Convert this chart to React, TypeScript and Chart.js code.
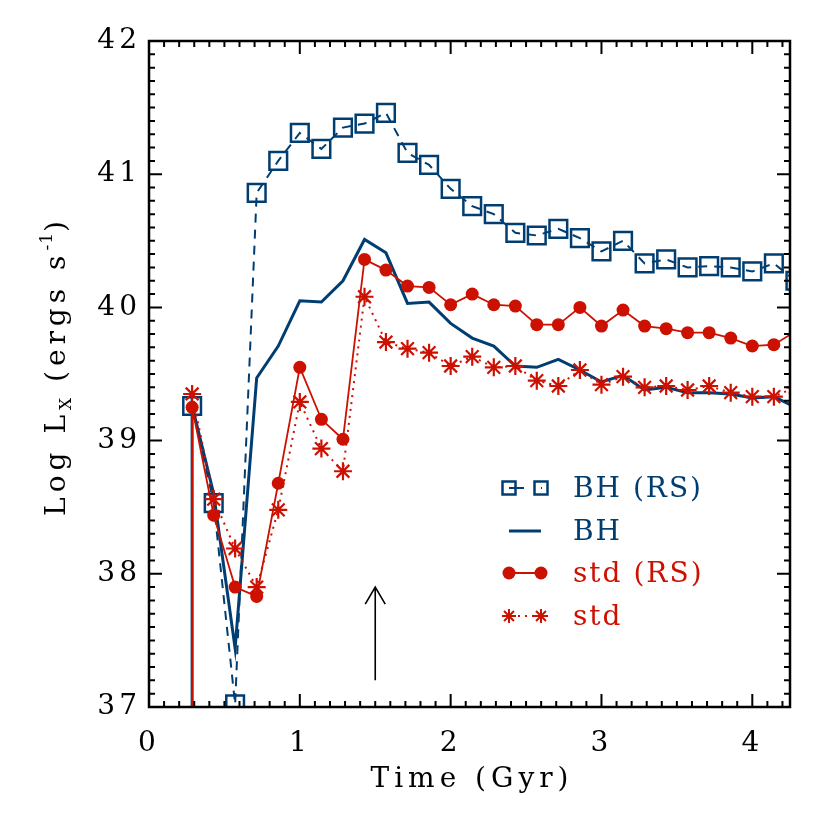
import { useEffect, useRef } from 'react';
import { Chart, registerables } from 'chart.js';

Chart.register(...registerables);

// ---- data ----
const times = [0.286, 0.429, 0.571, 0.714, 0.857, 1.0, 1.143, 1.286, 1.429, 1.571, 1.714, 1.857, 2.0, 2.143, 2.286, 2.429, 2.571, 2.714, 2.857, 3.0, 3.143, 3.286, 3.429, 3.571, 3.714, 3.857, 4.0, 4.143, 4.286];
const bhRS = [39.26, 38.53, 37.02, 40.86, 41.10, 41.31, 41.19, 41.35, 41.38, 41.46, 41.16, 41.07, 40.89, 40.76, 40.70, 40.56, 40.54, 40.59, 40.52, 40.42, 40.50, 40.33, 40.36, 40.30, 40.31, 40.30, 40.27, 40.33, 40.20];
const bh = [39.26, 38.60, 37.44, 39.47, 39.71, 40.05, 40.04, 40.20, 40.51, 40.41, 40.03, 40.04, 39.88, 39.77, 39.71, 39.56, 39.55, 39.61, 39.53, 39.44, 39.49, 39.38, 39.40, 39.36, 39.36, 39.35, 39.32, 39.33, 39.25];
const stdRS = [39.25, 38.44, 37.90, 37.83, 38.68, 39.55, 39.16, 39.01, 40.36, 40.28, 40.16, 40.15, 40.02, 40.10, 40.02, 40.01, 39.87, 39.87, 40.00, 39.86, 39.98, 39.86, 39.84, 39.81, 39.81, 39.77, 39.71, 39.72, 39.82];
const std = [39.35, 38.56, 38.19, 37.90, 38.48, 39.29, 38.94, 38.77, 40.08, 39.74, 39.69, 39.66, 39.56, 39.63, 39.55, 39.56, 39.45, 39.41, 39.53, 39.42, 39.48, 39.40, 39.41, 39.38, 39.41, 39.36, 39.33, 39.33, 39.40];
// first (pre-burst) sample, far below the axis
const dropTime = 0.286;
const dropValue = 30;

const seriesLabels = ['BH (RS)', 'BH', 'std (RS)', 'std'];
const xTitle = 'Time (Gyr)';
const yTitleParts = { main1: 'Log L', sub: 'X', main2: ' (ergs s', sup: '-1', main3: ')' };

const xRange = [0, 4.25];
const yRange = [37, 42];

// arrow marker
const arrowTime = 1.5;
const arrowFrom = 37.2;
const arrowTo = 37.9;

// ---- styles ----
const BLUE = 'rgb(0,62,114)';
const RED = 'rgb(204,17,0)';
const FONT = "'DejaVu Serif'";
const FS = 28;
const TICK_SPACING = '4px';

function pts(ys: number[], withDrop = false) {
  const arr = times.map((t, i) => ({ x: t, y: ys[i] }));
  if (withDrop) arr.unshift({ x: dropTime, y: dropValue });
  return arr;
}

function drawStar(ctx: CanvasRenderingContext2D, x: number, y: number, r: number) {
  ctx.beginPath();
  for (let a = 0; a < 4; a++) {
    const ang = (a * Math.PI) / 4;
    const dx = Math.cos(ang) * r;
    const dy = Math.sin(ang) * r;
    ctx.moveTo(x - dx, y - dy);
    ctx.lineTo(x + dx, y + dy);
  }
  ctx.stroke();
}

const framePlugin = {
  id: 'frame',
  beforeDraw(chart: any) {
    chart.ctx.letterSpacing = TICK_SPACING;
  },
  afterDraw(chart: any) {
    const ctx = chart.ctx as CanvasRenderingContext2D;
    const { left, right, top, bottom } = chart.chartArea;
    const xs = chart.scales.x;
    const ys = chart.scales.y;
    ctx.save();
    ctx.strokeStyle = '#000';
    ctx.lineWidth = 2;
    // ticks (inward, all four sides)
    ctx.beginPath();
    const nx = Math.floor(xRange[1] * 10 + 1e-6);
    for (let i = 0; i <= nx; i++) {
      const v = i / 10;
      const px = xs.getPixelForValue(v);
      const len = i % 10 === 0 ? 13 : 6;
      ctx.moveTo(px, bottom);
      ctx.lineTo(px, bottom - len);
      ctx.moveTo(px, top);
      ctx.lineTo(px, top + len);
    }
    for (let i = yRange[0] * 10; i <= yRange[1] * 10; i++) {
      const v = i / 10;
      const py = ys.getPixelForValue(v);
      const len = i % 10 === 0 ? 13 : 6;
      ctx.moveTo(left, py);
      ctx.lineTo(left + len, py);
      ctx.moveTo(right, py);
      ctx.lineTo(right - len, py);
    }
    ctx.stroke();
    ctx.lineWidth = 2.5;
    ctx.strokeRect(left, top, right - left, bottom - top);

    // arrow
    const ax = xs.getPixelForValue(arrowTime);
    const ay0 = ys.getPixelForValue(arrowFrom);
    const ay1 = ys.getPixelForValue(arrowTo);
    ctx.lineWidth = 1.6;
    ctx.beginPath();
    ctx.moveTo(ax, ay0);
    ctx.lineTo(ax, ay1);
    ctx.moveTo(ax - 10, ay1 + 17);
    ctx.lineTo(ax, ay1);
    ctx.lineTo(ax + 10, ay1 + 17);
    ctx.stroke();

    // x title
    ctx.letterSpacing = '5px';
    ctx.fillStyle = '#000';
    ctx.font = `${FS}px ${FONT}`;
    ctx.textAlign = 'center';
    ctx.textBaseline = 'middle';
    ctx.fillText(xTitle, (left + right) / 2 + 2.5, bottom + 73);

    // y title (rotated, with sub/superscript)
    ctx.letterSpacing = '5px';
    ctx.textAlign = 'left';
    ctx.textBaseline = 'alphabetic';
    const big = `${FS}px ${FONT}`;
    const small = `17px ${FONT}`;
    const parts = [
      { t: yTitleParts.main1, f: big, dy: 0, ls: '5px' },
      { t: yTitleParts.sub, f: small, dy: 6, ls: '2px' },
      { t: yTitleParts.main2, f: big, dy: 0, ls: '5px' },
      { t: yTitleParts.sup, f: small, dy: -13, ls: '1px' },
      { t: yTitleParts.main3, f: big, dy: 0, ls: '5px' },
    ];
    let total = 0;
    const widths = parts.map((p) => {
      ctx.font = p.f;
      ctx.letterSpacing = p.ls;
      const w = ctx.measureText(p.t).width;
      total += w;
      return w;
    });
    ctx.translate(left - 84, (top + bottom) / 2 - 8);
    ctx.rotate(-Math.PI / 2);
    let cx = -total / 2;
    parts.forEach((p, i) => {
      ctx.font = p.f;
      ctx.letterSpacing = p.ls;
      ctx.fillText(p.t, cx, p.dy);
      cx += widths[i];
    });
    ctx.restore();

    // legend
    ctx.save();
    const s1 = left + 360;
    const s2 = left + 392;
    const tx = left + 424;
    const rows = [top + 447, top + 490, top + 532, top + 575];
    // row 1: squares with dashed line
    ctx.strokeStyle = BLUE;
    ctx.lineWidth = 2;
    ctx.setLineDash([15, 17]);
    ctx.beginPath();
    ctx.moveTo(s1, rows[0]);
    ctx.lineTo(s2 + 1, rows[0]);
    ctx.stroke();
    ctx.setLineDash([]);
    ctx.lineWidth = 2.5;
    ctx.strokeRect(s1 - 6.5, rows[0] - 6.5, 13, 13);
    ctx.strokeRect(s2 - 6.5, rows[0] - 6.5, 13, 13);
    // row 2: solid line
    ctx.lineWidth = 3;
    ctx.beginPath();
    ctx.moveTo(s1, rows[1]);
    ctx.lineTo(s2, rows[1]);
    ctx.stroke();
    // row 3: circles
    ctx.strokeStyle = RED;
    ctx.fillStyle = RED;
    ctx.lineWidth = 2;
    ctx.beginPath();
    ctx.moveTo(s1, rows[2]);
    ctx.lineTo(s2, rows[2]);
    ctx.stroke();
    [s1, s2].forEach((x) => {
      ctx.beginPath();
      ctx.arc(x, rows[2], 6.5, 0, Math.PI * 2);
      ctx.fill();
    });
    // row 4: stars with dotted line
    ctx.setLineDash([2, 5]);
    ctx.beginPath();
    ctx.moveTo(s1 + 9, rows[3]);
    ctx.lineTo(s2 - 6, rows[3]);
    ctx.stroke();
    ctx.setLineDash([]);
    drawStar(ctx, s1, rows[3], 7);
    drawStar(ctx, s2, rows[3], 7);
    // texts
    ctx.letterSpacing = '2px';
    ctx.font = `${FS}px ${FONT}`;
    ctx.textAlign = 'left';
    ctx.textBaseline = 'middle';
    const cols = [BLUE, BLUE, RED, RED];
    seriesLabels.forEach((lab, i) => {
      ctx.fillStyle = cols[i];
      ctx.fillText(lab, tx, rows[i] + 2);
    });
    ctx.restore();
    ctx.letterSpacing = '0px';
  },
};

export default function App() {
  const ref = useRef<HTMLCanvasElement | null>(null);
  useEffect(() => {
    document.body.style.margin = '0';
    const canvas = ref.current!;
    const chart = new Chart(canvas, {
      type: 'line',
      data: {
        datasets: [
          {
            label: seriesLabels[2],
            data: pts(stdRS, true),
            borderColor: RED,
            borderWidth: 1.8,
            pointStyle: 'circle',
            pointRadius: 6.5,
            pointBackgroundColor: RED,
            pointBorderColor: RED,
            pointBorderWidth: 0,
            clip: 0,
          },
          {
            label: seriesLabels[3],
            data: pts(std),
            borderColor: RED,
            borderWidth: 2,
            borderDash: [2, 5],
            pointStyle: 'star',
            pointRadius: 9,
            pointBorderColor: RED,
            pointBackgroundColor: RED,
            pointBorderWidth: 2.2,
            clip: 0,
          },
          {
            label: seriesLabels[1],
            data: pts(bh, true),
            borderColor: BLUE,
            borderWidth: 3,
            pointRadius: 0,
            clip: 0,
          },
          {
            label: seriesLabels[0],
            data: pts(bhRS),
            borderColor: BLUE,
            borderWidth: 2,
            borderDash: [9, 7],
            pointStyle: 'rect',
            pointRadius: 12.5,
            pointBorderColor: BLUE,
            pointBackgroundColor: 'rgba(0,0,0,0)',
            pointBorderWidth: 2.5,
            clip: 0,
          },
        ] as any,
      },
      options: {
        animation: false,
        responsive: false,
        events: [],
        layout: { padding: { left: 0, top: 41, right: 40, bottom: 0 } },
        plugins: { legend: { display: false }, tooltip: { enabled: false } },
        elements: { line: { tension: 0 } },
        scales: {
          x: {
            type: 'linear',
            min: xRange[0],
            max: xRange[1],
            grid: { display: false, drawTicks: false },
            border: { display: false },
            ticks: {
              stepSize: 1,
              includeBounds: false,
              color: '#000',
              padding: 20,
              maxRotation: 0,
              font: { family: FONT, size: FS },
              callback: (v: any) => String(v),
            },
            afterFit: (s: any) => {
              s.height = 123;
            },
          },
          y: {
            type: 'linear',
            min: yRange[0],
            max: yRange[1],
            grid: { display: false, drawTicks: false },
            border: { display: false },
            ticks: {
              stepSize: 1,
              color: '#000',
              padding: 8,
              font: { family: FONT, size: FS },
              callback: (v: any) => String(v),
            },
            afterFit: (s: any) => {
              s.width = 149;
            },
          },
        },
      } as any,
      plugins: [framePlugin],
    });
    return () => chart.destroy();
  }, []);
  return (
    <canvas
      ref={ref}
      width={830}
      height={830}
      style={{ display: 'block', width: 830, height: 830 }}
    />
  );
}
